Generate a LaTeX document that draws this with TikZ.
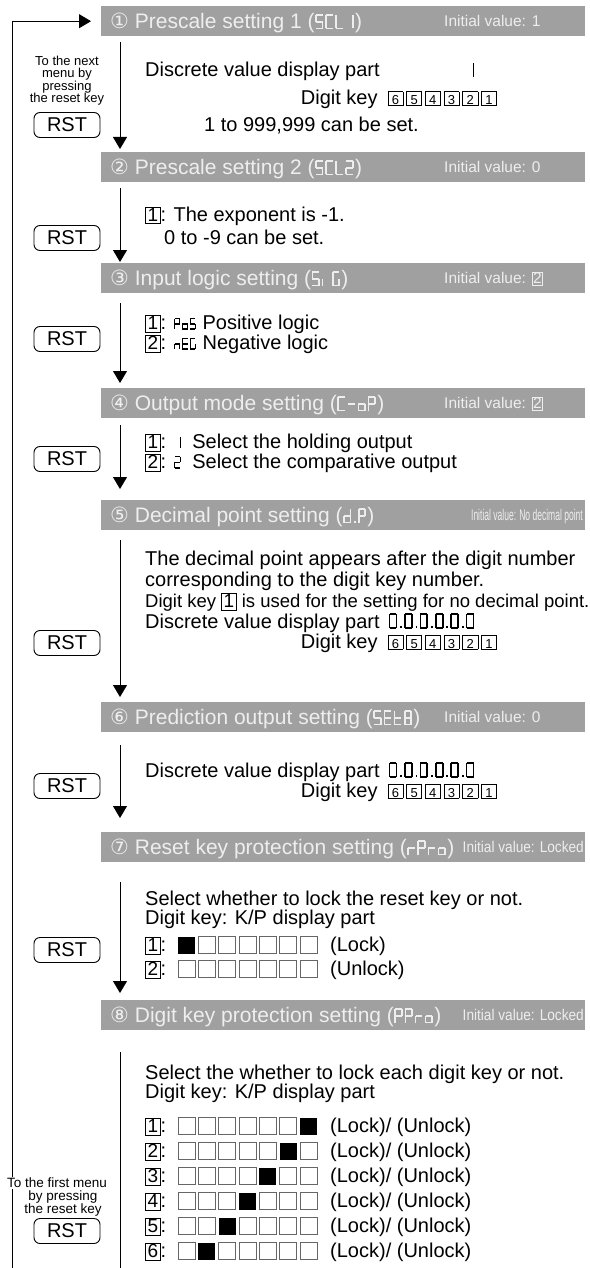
\documentclass[tikz,border=0pt]{standalone}
\usepackage{fontspec}
\setmainfont{Liberation Sans}
\newfontfamily\circfont{DejaVu Sans}
\usepackage{graphicx}
\usetikzlibrary{arrows.meta, positioning}

\definecolor{mnuGrey}{HTML}{A0A0A0}
\definecolor{mnuText}{HTML}{EEEEEE}
\definecolor{mnuSq}{HTML}{666666}

% --- 7-segment glyphs: segment paths, then characters ---
\expandafter\def\csname sgpa\endcsname{(0,12)--(6,12)}
\expandafter\def\csname sgpb\endcsname{(6,12)--(6,6)}
\expandafter\def\csname sgpc\endcsname{(6,6)--(6,0)}
\expandafter\def\csname sgpd\endcsname{(0,0)--(6,0)}
\expandafter\def\csname sgpe\endcsname{(0,0)--(0,6)}
\expandafter\def\csname sgpf\endcsname{(0,6)--(0,12)}
\expandafter\def\csname sgpg\endcsname{(0,6)--(6,6)}
\expandafter\def\csname sgpp\endcsname{(0.8,0)--(0.8,1.6)}
\def\sgdef#1#2{\expandafter\def\csname sgc#1\endcsname{#2}}
\sgdef{S}{a,f,g,c,d}
\sgdef{C}{a,f,e,d}
\sgdef{L}{f,e,d}
\sgdef{1}{b,c}
\sgdef{2}{a,b,g,e,d}
\sgdef{i}{e}
\sgdef{G}{a,f,e,d,c}
\sgdef{-}{g}
\sgdef{o}{g,c,d,e}
\sgdef{P}{a,b,f,g,e}
\sgdef{d}{b,c,d,e,g}
\sgdef{E}{a,f,g,e,d}
\sgdef{t}{f,g,e,d}
\sgdef{B}{a,b,c,d,e,f,g}
\sgdef{r}{e,g}
\sgdef{n}{e,g,c}
\sgdef{0}{a,b,c,d,e,f}
\sgdef{.}{p}
\def\sgdot{p}
\newcommand\sevseg[2][1]{%
  \edef\sglist{\csname sgc#2\endcsname}%
  \def\sgw{8}\ifx\sglist\sgdot\def\sgw{3}\fi
  \tikz[baseline=0pt, x=#1pt, y=#1pt, line width=#1*1.5pt]{%
    \path (-1.2,0) (\sgw,12);
    \foreach \sgx in \sglist {\draw \csname sgp\sgx\endcsname;}}}
\newcommand\sevs[2][1]{\foreach \sgch in {#2}{\sevseg[#1]{\sgch}}}

% --- key boxes ---
\newcommand\kbox[1]{{\setlength\fboxsep{0pt}\setlength\fboxrule{0.7pt}%
  \fbox{\makebox[14pt]{\rule[-2.5pt]{0pt}{14.5pt}\fontsize{19}{19}\selectfont#1}}}}
\newcommand\ibox[1]{{\setlength\fboxsep{0pt}\setlength\fboxrule{0.6pt}%
  \fbox{\makebox[10pt]{\rule[-1.5pt]{0pt}{12.5pt}#1}}}}
\newcommand\dkey[1]{{\setlength\fboxsep{0pt}\setlength\fboxrule{0.6pt}%
  \fbox{\makebox[14.5pt]{\rule[-1pt]{0pt}{13.5pt}\fontsize{13}{13}\selectfont#1}}}}
\newcommand\dkeyrow{\dkey{6}\kern3pt\dkey{5}\kern3pt\dkey{4}\kern3pt%
  \dkey{3}\kern3pt\dkey{2}\kern3pt\dkey{1}}

\begin{document}
\begin{tikzpicture}[
    x=1pt, y=-1pt,
    >={Triangle[width=14pt, length=12pt]},
    every node/.style={inner sep=0pt},
    % --- node styles ---
    hdr/.style={fill=mnuGrey, minimum width=484pt, minimum height=30pt,
                anchor=north west},
    htitle/.style={anchor=base west, text=mnuText,
                   font=\fontsize{21}{24}\selectfont},
    hinit/.style={anchor=base west, text=mnuText,
                  font=\fontsize{15.5}{18}\selectfont},
    body/.style={anchor=base west, font=\fontsize{20}{22}\selectfont},
    note/.style={align=center, font=\fontsize{13}{12.4}\selectfont},
    rst/.style={draw, line width=0.9pt, rounded corners=6pt,
                minimum width=66pt, minimum height=25pt,
                font=\fontsize{20}{20}\selectfont},
    % --- line styles ---
    flow/.style={->, line width=0.9pt},
    sqe/.style={draw=mnuSq, line width=0.6pt},
    sqf/.style={fill=black},
]
\useasboundingbox (0,0) rectangle (589,1268);

% ===== HEADER BARS ==========================================================

\node[hdr] (h1) at (101,6) {};
\node[htitle] (t1) at (110,28.5)
    {{\circfont ①} Prescale setting 1 (\sevs[1.1]{S,C,L,1})};
\node[hinit] (v1) at (444,26.5) {Initial value: 1};

\node[hdr] (h2) at (101,152) {};
\node[htitle] (t2) at (110,174.5)
    {{\circfont ②} Prescale setting 2 (\sevs[1.1]{S,C,L,2})};
\node[hinit] (v2) at (444,172.5) {Initial value: 0};

\node[hdr] (h3) at (101,263) {};
\node[htitle] (t3) at (110,285.5)
    {{\circfont ③} Input logic setting (\sevs[1.1]{S,i,G})};
\node[hinit] (v3) at (444,283.5) {Initial value: \ibox{2}};

\node[hdr] (h4) at (101,388) {};
\node[htitle] (t4) at (110,410.5)
    {{\circfont ④} Output mode setting (\sevs[1.1]{C,-,o,P})};
\node[hinit] (v4) at (444,408.5) {Initial value: \ibox{2}};

\node[hdr] (h5) at (101,500) {};
\node[htitle] (t5) at (110,522.5)
    {{\circfont ⑤} Decimal point setting (\sevs[1.1]{d,.,P})};
\node[hinit, anchor=base east] (v5) at (583,520.5)
    {\scalebox{0.55}[1]{Initial value: No decimal point}};

\node[hdr] (h6) at (101,702) {};
\node[htitle] (t6) at (110,724.5)
    {{\circfont ⑥} Prediction output setting (\sevs[1.1]{S,E,t,B})};
\node[hinit] (v6) at (444,722.5) {Initial value: 0};

\node[hdr] (h7) at (101,832) {};
\node[htitle] (t7) at (110,854.5)
    {{\circfont ⑦} Reset key protection setting (\sevs[1.1]{r,P,r,o})};
\node[hinit, anchor=base east] (v7) at (584,852.5)
    {\scalebox{0.88}[1]{Initial value: Locked}};

\node[hdr] (h8) at (101,1000) {};
\node[htitle] (t8) at (110,1022.5)
    {{\circfont ⑧} Digit key protection setting (\sevs[1.1]{P,P,r,o})};
\node[hinit, anchor=base east] (v8) at (584,1020.5)
    {\scalebox{0.88}[1]{Initial value: Locked}};

% -- return loop to the first menu --
\coordinate (lp) at (12,1268);
\draw[flow] (lp) |- ([xshift=-10pt]h1.west);

% ===== 1 PRESCALE 1 =========================================================
\node[note] (n1) at (67,80.5) {To the next\\menu by\\pressing\\the reset key};
\node[rst] (r1) at (67,125) {RST};
\node[body] (d1) at (145,77) {Discrete value display part};
\node[body] (g1) at (465,77) {\sevs[1.15]{1}};
\node[body, anchor=base east] (k1) at (497,104.5) {Digit key\enspace\dkeyrow};
\node[body] (c1) at (204,132) {1 to 999,999 can be set.};
\coordinate (a1) at (120,42);
\coordinate (b1) at (120,149);
\draw[flow] (a1) -- (b1);

% ===== 2 PRESCALE 2 =========================================================
\node[rst] (r2) at (67,238) {RST};
\node[body] (e2) at (145,221) {\kbox{1}: The exponent is -1.};
\node[body] (c2) at (164,244) {0 to -9 can be set.};
\coordinate (a2) at (120,188);
\coordinate (b2) at (120,262);
\draw[flow] (a2) -- (b2);

% ===== 3 INPUT LOGIC ========================================================
\node[rst] (r3) at (67,339) {RST};
\node[body] (p3) at (145,329) {\kbox{1}: \sevs[0.85]{P,o,S} Positive logic};
\node[body] (m3) at (145,349) {\kbox{2}: \sevs[0.85]{n,E,G} Negative logic};
\coordinate (a3) at (120,303);
\coordinate (b3) at (120,383);
\draw[flow] (a3) -- (b3);

% ===== 4 OUTPUT MODE ========================================================
\node[rst] (r4) at (67,459) {RST};
\node[body] (o4a) at (145,448)
    {\kbox{1}: \sevs[0.95]{1}\enspace Select the holding output};
\node[body] (o4b) at (145,468)
    {\kbox{2}: \sevs[0.95]{2}\enspace Select the comparative output};
\coordinate (a4) at (120,425);
\coordinate (b4) at (120,489);
\draw[flow] (a4) -- (b4);

% ===== 5 DECIMAL POINT ======================================================
\node[body] (l5a) at (145,565) {The decimal point appears after the digit number};
\node[body] (l5b) at (145,586) {corresponding to the digit key number.};
\node[body, font=\fontsize{18.5}{20}\selectfont] (l5c) at (145,607)
    {Digit key \kbox{1} is used for the setting for no decimal point.};
\node[body] (l5d) at (145,628) {Discrete value display part};
\node[body] (z5) at (388,628) {\sevs[1.15]{0,.,0,.,0,.,0,.,0,.,0}};
\node[body, anchor=base east] (k5) at (497,648) {Digit key\enspace\dkeyrow};
\node[rst] (r5) at (67,643) {RST};
\coordinate (a5) at (120,540);
\coordinate (b5) at (120,697);
\draw[flow] (a5) -- (b5);

% ===== 6 PREDICTION OUTPUT ==================================================
\node[body] (l6a) at (145,777) {Discrete value display part};
\node[body] (z6) at (388,777) {\sevs[1.15]{0,.,0,.,0,.,0,.,0,.,0}};
\node[body, anchor=base east] (k6) at (497,797) {Digit key\enspace\dkeyrow};
\node[rst] (r6) at (67,786) {RST};
\coordinate (a6) at (120,745);
\coordinate (b6) at (120,818);
\draw[flow] (a6) -- (b6);

% ===== 7 RESET KEY PROTECTION ===============================================
\node[body] (l7a) at (145,905) {Select whether to lock the reset key or not.};
\node[body] (l7b) at (145,924) {Digit key: K/P display part};
\node[body] (q7a) at (145,951) {\kbox{1}:};
\node[body] (q7b) at (145,975) {\kbox{2}:};
\foreach \j in {0,...,6}{
    \ifnum\j=0 \fill[sqf] (178+20.3*\j,936.5) rectangle ++(17,17);
    \else \draw[sqe] (178+20.3*\j,936.5) rectangle ++(17,17); \fi
    \draw[sqe] (178+20.3*\j,960.5) rectangle ++(17,17);
}
\node[body] (s7a) at (330,951) {(Lock)};
\node[body] (s7b) at (330,975) {(Unlock)};
\node[rst] (r7) at (67,950) {RST};
\coordinate (a7) at (120,882);
\coordinate (b7) at (120,993);
\draw[flow] (a7) -- (b7);

% ===== 8 DIGIT KEY PROTECTION ===============================================
\node[body] (l8a) at (145,1079) {Select the whether to lock each digit key or not.};
\node[body] (l8b) at (145,1098) {Digit key: K/P display part};
\foreach \k in {1,...,6}{
    \pgfmathsetmacro\ry{1126+25*(\k-1)}
    \pgfmathtruncatemacro\jf{7-\k}
    \node[body] (q8\k) at (145,\ry+6) {\kbox{\k}:};
    \foreach \j in {0,...,6}{
        \ifnum\j=\jf \fill[sqf] (178+20.3*\j,\ry-8.5) rectangle ++(17,17);
        \else \draw[sqe] (178+20.3*\j,\ry-8.5) rectangle ++(17,17); \fi
    }
    \node[body] (s8\k) at (330,\ry+6) {(Lock)/ (Unlock)};
}
\node[note, fill=white, inner sep=1pt, font=\fontsize{13.5}{13}\selectfont]
    (n8a) at (57,1183) {To the first menu};
\node[note, font=\fontsize{13.5}{13}\selectfont] (n8b) at (63,1203)
    {by pressing\\the reset key};
\node[rst] (r8) at (67,1231) {RST};
\coordinate (a8) at (120,1052);
\coordinate (b8) at (120,1268);
\draw[line width=0.9pt] (a8) -- (b8);

\end{tikzpicture}
\end{document}
